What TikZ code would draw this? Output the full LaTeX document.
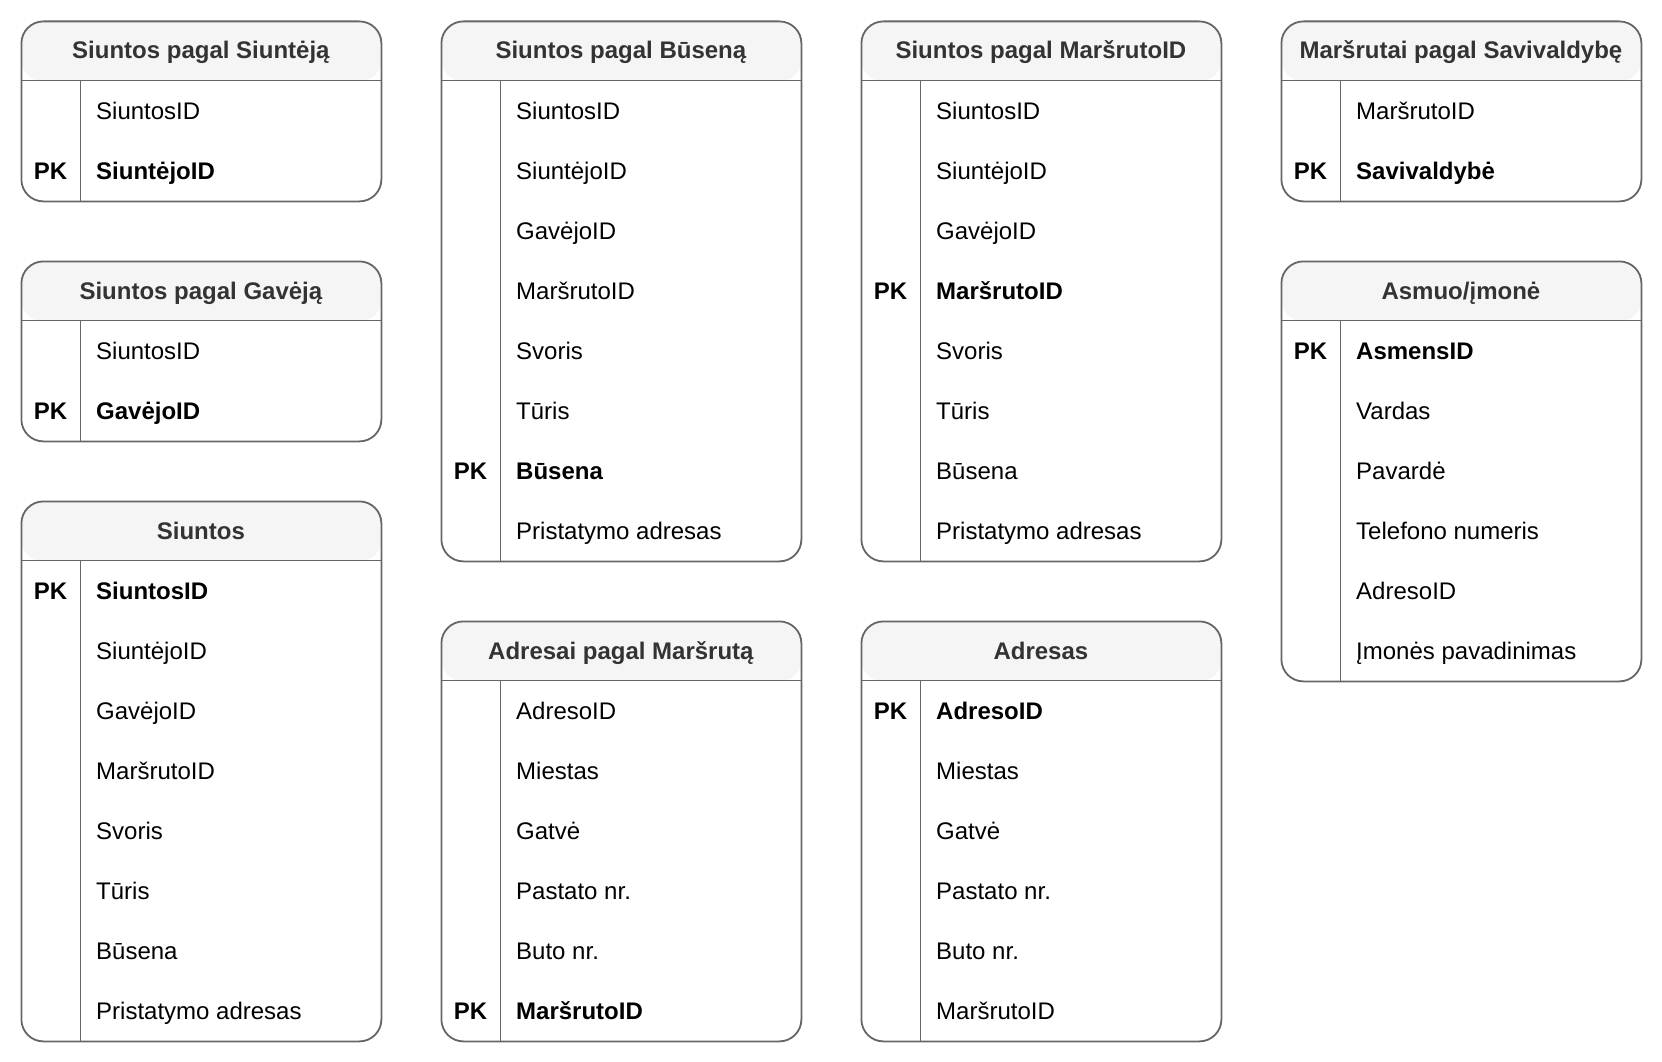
\documentclass[tikz,border=0pt]{standalone}
\usepackage{fontspec}
\setmainfont{Liberation Sans}
\usetikzlibrary{calc}
\definecolor{bordergray}{HTML}{666666}
\definecolor{hdrgray}{HTML}{F5F5F5}
\definecolor{titlegray}{HTML}{333333}
\newcommand\erfont{\fontsize{24pt}{28pt}\selectfont}
\tikzset{
  tbl/.style={draw=bordergray, line width=1.8pt, fill=white, rounded corners=22pt,
    minimum width=360pt, inner sep=0pt, anchor=north west,
    path picture={\fill[hdrgray] (path picture bounding box.north west) rectangle ([yshift=-60pt]path picture bounding box.north east);}},
  lin/.style={draw=bordergray, line width=1.8pt},
  hdrtext/.style={anchor=base, inner sep=0pt, font=\erfont\bfseries, text=titlegray},
  fldn/.style={anchor=base west, inner sep=0pt, font=\erfont, text=black},
  fldp/.style={anchor=base west, inner sep=0pt, font=\erfont\bfseries, text=black},
  pklabel/.style={anchor=base, inner sep=0pt, font=\erfont\bfseries, text=black}
}
% name, x, y, rows, title, list
\newcommand\ertable[6]{%
  \node[tbl, minimum height={60pt+60pt*#4}] (#1) at (#2,#3) {};
  \draw[lin] ([yshift=-60pt]#1.north west) -- ([yshift=-60pt]#1.north east);
  \draw[lin] ([shift={(60pt,-60pt)}]#1.north west) -- ([xshift=60pt]#1.south west);
  \node[hdrtext] (#1-title) at ($(#1.north)+(-0.5,38.5)$) {#5};
  \foreach \s/\f [count=\i] in {#6} {
    \node[fld\s] (#1-f\i) at ($(#1.north west)+(75.5,{60*\i+39})$) {\f};
    \if p\s
      \node[pklabel] (#1-k\i) at ($(#1.north west)+(30,{60*\i+39})$) {PK};
    \fi
  }
}
\begin{document}
\begin{tikzpicture}[x=1pt,y=-1pt]
\useasboundingbox (0,0) rectangle (1662,1062);
\ertable{t1}{20.5}{20.5}{2}{Siuntos pagal Siuntėją}{n/SiuntosID, p/SiuntėjoID}
\ertable{t2}{20.5}{260.5}{2}{Siuntos pagal Gavėją}{n/SiuntosID, p/GavėjoID}
\ertable{t3}{20.5}{500.5}{8}{Siuntos}{p/SiuntosID, n/SiuntėjoID, n/GavėjoID, n/MaršrutoID, n/Svoris, n/Tūris, n/Būsena, n/Pristatymo adresas}
\ertable{t4}{440.5}{20.5}{8}{Siuntos pagal Būseną}{n/SiuntosID, n/SiuntėjoID, n/GavėjoID, n/MaršrutoID, n/Svoris, n/Tūris, p/Būsena, n/Pristatymo adresas}
\ertable{t5}{440.5}{620.5}{6}{Adresai pagal Maršrutą}{n/AdresoID, n/Miestas, n/Gatvė, n/Pastato nr., n/Buto nr., p/MaršrutoID}
\ertable{t6}{860.5}{20.5}{8}{Siuntos pagal MaršrutoID}{n/SiuntosID, n/SiuntėjoID, n/GavėjoID, p/MaršrutoID, n/Svoris, n/Tūris, n/Būsena, n/Pristatymo adresas}
\ertable{t7}{860.5}{620.5}{6}{Adresas}{p/AdresoID, n/Miestas, n/Gatvė, n/Pastato nr., n/Buto nr., n/MaršrutoID}
\ertable{t8}{1280.5}{20.5}{2}{Maršrutai pagal Savivaldybę}{n/MaršrutoID, p/Savivaldybė}
\ertable{t9}{1280.5}{260.5}{6}{Asmuo/įmonė}{p/AsmensID, n/Vardas, n/Pavardė, n/Telefono numeris, n/AdresoID, n/Įmonės pavadinimas}
\end{tikzpicture}
\end{document}
